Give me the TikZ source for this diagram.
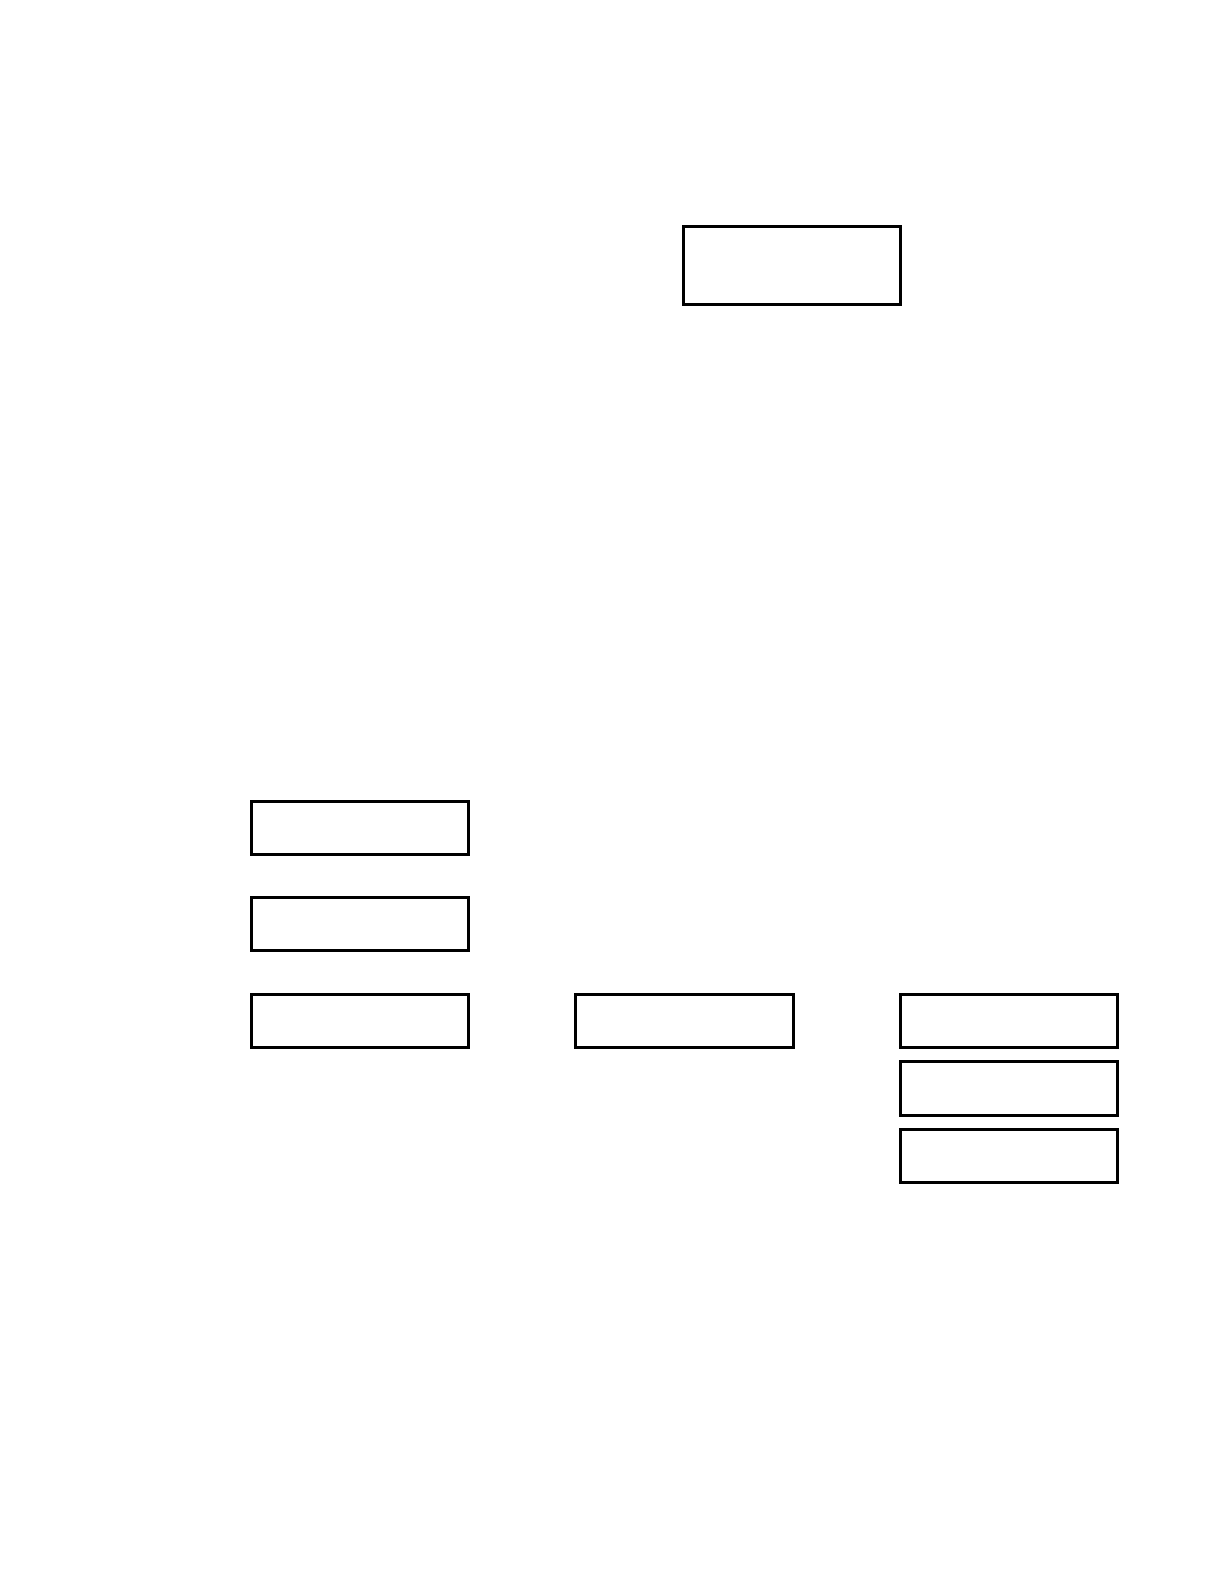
\documentclass[tikz,border=0pt]{standalone}
\usepackage{tikz}
\usetikzlibrary{positioning}

\tikzset{
  emptybox/.style={draw=black,line width=1.5pt,minimum width=107.5pt,minimum height=26.5pt,inner sep=0pt},
  tallbox/.style={emptybox,minimum height=38.5pt}
}

\begin{document}
\begin{tikzpicture}[x=0.5pt,y=-0.5pt]
 \useasboundingbox (0,0) rectangle (1212,1568);
 \node[tallbox] (top) at (784,262.5) {};
 \node[emptybox] (leftA) at (356.5,819.5) {};
 \node[emptybox] (leftB) at (356.5,914.5) {};
 \node[emptybox] (leftC) at (356.5,1010.5) {};
 \node[emptybox] (mid) at (677.5,1010.5) {};
 \node[emptybox] (rightA) at (998.5,1010.5) {};
 \node[emptybox] (rightB) at (998.5,1077.5) {};
 \node[emptybox] (rightC) at (998.5,1144.5) {};
\end{tikzpicture}
\end{document}
